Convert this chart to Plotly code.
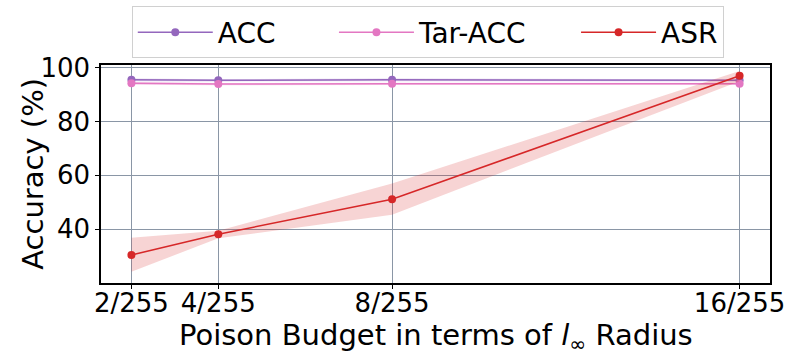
import plotly.graph_objects as go

# data
budget = [2, 4, 8, 16]
budget_labels = ["2/255", "4/255", "8/255", "16/255"]
acc = [95.5, 95.3, 95.5, 95.3]
acc_lo = [95.0, 94.9, 95.0, 94.9]
acc_hi = [96.0, 95.7, 96.0, 95.7]
tar_acc = [94.2, 93.9, 94.0, 94.0]
tar_lo = [93.7, 93.5, 93.6, 93.6]
tar_hi = [94.7, 94.3, 94.4, 94.4]
asr = [30.4, 38.1, 51.1, 97.0]
asr_lo = [24.2, 36.6, 45.4, 95.0]
asr_hi = [36.8, 39.4, 57.0, 98.8]

series = [
    ("ACC", acc, acc_lo, acc_hi, "#9467bd", "rgba(148,103,189,0.25)"),
    ("Tar-ACC", tar_acc, tar_lo, tar_hi, "#e377c2", "rgba(227,119,194,0.25)"),
    ("ASR", asr, asr_lo, asr_hi, "#d62728", "rgba(214,39,40,0.2)"),
]

# spacing after each legend entry
pads = [6, 5, 0]

fig = go.Figure()
for (name, vals, lo, hi, col, fillcol), p in zip(series, pads):
    fig.add_trace(go.Scatter(x=budget, y=hi, mode="lines", line=dict(width=0),
                             showlegend=False, hoverinfo="skip"))
    fig.add_trace(go.Scatter(x=budget, y=lo, mode="lines", line=dict(width=0),
                             fill="tonexty", fillcolor=fillcol,
                             showlegend=False, hoverinfo="skip"))
    fig.add_trace(go.Scatter(x=budget, y=vals, mode="lines+markers",
                             name=name + "\u00a0" * p,
                             line=dict(color=col, width=1.5),
                             marker=dict(color=col, size=8)))

fig.update_layout(
    width=796, height=361,
    margin=dict(l=101, r=26, t=65, b=78, autoexpand=False),
    plot_bgcolor="white", paper_bgcolor="white",
    font=dict(family="DejaVu Sans", size=26, color="black"),
    legend=dict(orientation="h", x=0.046, xanchor="left", y=1.03, yanchor="bottom",
                bordercolor="#d0d0d0", borderwidth=1, font=dict(size=28),
                itemwidth=75, traceorder="normal"),
    showlegend=True,
    annotations=[
        dict(text="Poison Budget in terms of <i>l</i><sub>∞</sub> Radius",
             xref="paper", yref="paper", x=0.5, y=-0.15, xanchor="center",
             yanchor="top", showarrow=False, font=dict(size=29)),
        dict(text="Accuracy (%)", xref="paper", yref="paper", x=-0.102, y=0.5,
             xanchor="center", yanchor="middle", textangle=-90, showarrow=False,
             font=dict(size=29)),
    ],
)
fig.update_xaxes(
    range=[1.3, 16.7], tickvals=budget, ticktext=budget_labels,
    showgrid=True, gridcolor="#8a96a6", gridwidth=1,
    showline=True, linecolor="black", linewidth=1.5, mirror=True,
    ticks="outside", ticklen=4, tickcolor="black", ticklabelstandoff=-8,
)
fig.update_yaxes(
    range=[20, 101], tickvals=[40, 60, 80, 100],
    showgrid=True, gridcolor="#8a96a6", gridwidth=1,
    showline=True, linecolor="black", linewidth=1.5, mirror=True,
    ticks="outside", ticklen=4, tickcolor="black",
)

fig.write_html("out.html", config={"displayModeBar": False},
               post_script="document.body.style.margin='0';")
